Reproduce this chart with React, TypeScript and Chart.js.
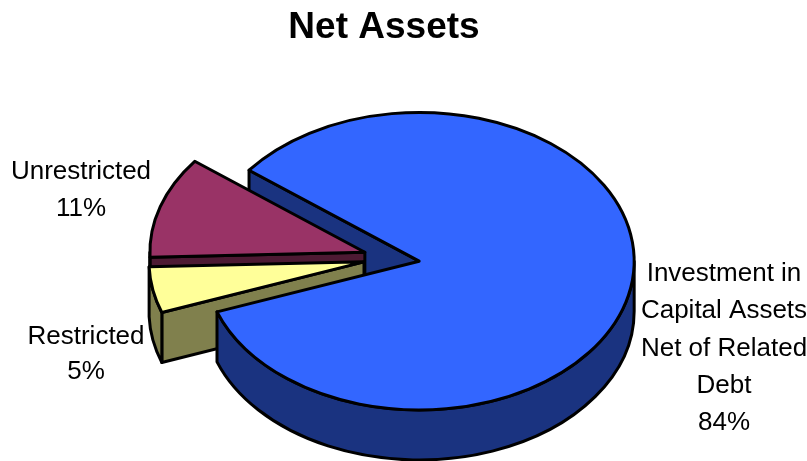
import React, { useEffect, useRef } from "react";
import { Chart, registerables } from "chart.js";

Chart.register(...registerables);

const titleText = "Net Assets";
const categories = ["Investment in Capital Assets Net of Related Debt", "Restricted", "Unrestricted"];
const shares = [84, 5, 11];
const topColours = ["#3366FF", "#FFFF99", "#993366"];
const wallColours = ["#1A3380", "#80804D", "#4D1A33"];
const labelLines = [
  ["Investment in", "Capital Assets", "Net of Related", "Debt", "84%"],
  ["Restricted", "5%"],
  ["Unrestricted", "11%"],
];

const FONT = '"Liberation Sans", Arial, sans-serif';
const SQUASH = 0.692;
const DEPTH = 50;
const EXPLODE = 28;
const SHIFT = { x: 7.5, y: 2.5 };
const LABEL_ANCHORS = [
  { x: 724, y: 274 },
  { x: 86, y: 337 },
  { x: 81, y: 172 },
];
const LABEL_LINE_HEIGHT = [37.2, 35, 37];

const pie3d = {
  id: "pie3d",
  beforeDatasetsDraw(chart: any) {
    const ctx: CanvasRenderingContext2D = chart.ctx;
    const arcs = chart.getDatasetMeta(0).data;
    const geo = arcs.map((arc: any) => {
      const mid = (arc.startAngle + arc.endAngle) / 2;
      return {
        a0: arc.startAngle,
        a1: arc.endAngle,
        cx: arc.x + SHIFT.x + Math.cos(mid) * EXPLODE,
        cy: arc.y + SHIFT.y + Math.sin(mid) * EXPLODE * SQUASH,
        rx: arc.outerRadius,
        ry: arc.outerRadius * SQUASH,
      };
    });
    const paint = (fill: string) => {
      ctx.fillStyle = fill;
      ctx.fill();
      ctx.stroke();
    };
    const cutWall = (g: any, i: number) => {
      const px = g.cx + Math.cos(g.a0) * g.rx;
      const py = g.cy + Math.sin(g.a0) * g.ry;
      ctx.beginPath();
      ctx.moveTo(g.cx, g.cy);
      ctx.lineTo(px, py);
      ctx.lineTo(px, py + DEPTH);
      ctx.lineTo(g.cx, g.cy + DEPTH);
      ctx.closePath();
      paint(wallColours[i]);
    };
    const outerWall = (g: any, i: number) => {
      // the front half of the rim lies between 0 and PI on the canvas
      const TAU = Math.PI * 2;
      for (const k of [0, 1, 2]) {
        const from = Math.max(g.a0, k * TAU - TAU);
        const to = Math.min(g.a1, k * TAU - TAU + Math.PI);
        if (to <= from) continue;
        ctx.beginPath();
        ctx.ellipse(g.cx, g.cy, g.rx, g.ry, 0, from, to);
        ctx.ellipse(g.cx, g.cy + DEPTH, g.rx, g.ry, 0, to, from, true);
        ctx.closePath();
        paint(wallColours[i]);
      }
    };
    const top = (g: any, i: number) => {
      ctx.beginPath();
      ctx.moveTo(g.cx, g.cy);
      ctx.ellipse(g.cx, g.cy, g.rx, g.ry, 0, g.a0, g.a1);
      ctx.closePath();
      paint(topColours[i]);
    };

    ctx.save();
    ctx.strokeStyle = "#000";
    ctx.lineWidth = 3;
    ctx.lineJoin = "round";
    cutWall(geo[0], 0);
    for (const i of [2, 1]) {
      cutWall(geo[i], i);
      outerWall(geo[i], i);
      top(geo[i], i);
    }
    outerWall(geo[0], 0);
    top(geo[0], 0);

    ctx.fillStyle = "#000";
    ctx.font = `26px ${FONT}`;
    ctx.textAlign = "center";
    ctx.textBaseline = "middle";
    labelLines.forEach((lines, i) => {
      lines.forEach((line, j) => {
        ctx.fillText(line, LABEL_ANCHORS[i].x, LABEL_ANCHORS[i].y + j * LABEL_LINE_HEIGHT[i]);
      });
    });
    ctx.restore();
    return false;
  },
};

export default function App() {
  const ref = useRef<HTMLCanvasElement>(null);
  useEffect(() => {
    document.body.style.margin = "0";
    const chart = new Chart(ref.current!, {
      type: "pie",
      data: {
        labels: categories,
        datasets: [{ data: shares, backgroundColor: topColours, radius: 215, borderWidth: 0 }],
      },
      options: {
        responsive: false,
        animation: false,
        rotation: 307.7,
        layout: { padding: { right: 39 } },
        plugins: {
          legend: { display: false },
          tooltip: { enabled: false },
          title: {
            display: true,
            text: titleText,
            fullSize: false,
            color: "#000",
            font: { family: FONT, size: 37, weight: "bold" },
            padding: { top: 6, bottom: 0 },
          },
        },
      } as any,
      plugins: [pie3d as any],
    });
    return () => chart.destroy();
  }, []);
  return <canvas ref={ref} width={807} height={461} style={{ display: "block" }} />;
}
